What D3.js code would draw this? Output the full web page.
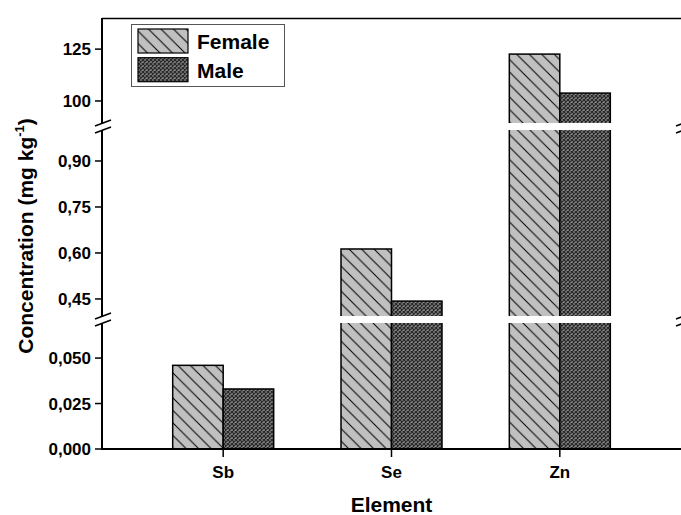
<!DOCTYPE html>
<html>
<head>
<meta charset="utf-8">
<script src="https://cdn.jsdelivr.net/npm/d3@7"></script>
<style>
  body { margin: 0; background: #fff; }
  svg { font-family: "Liberation Sans", Arial, sans-serif; font-weight: bold; }
</style>
</head>
<body>
<svg id="chart" width="681" height="515"></svg>
<script>
// Data
const categories = ["Sb", "Se", "Zn"];
const seriesNames = ["Female", "Male"];
const femaleValues = [0.046, 0.613, 122.6];
const maleValues = [0.033, 0.443, 103.8];

// Broken y axis: three segments, bottom to top
const segDomains = [[0, 0.0712], [0.383, 1.0125], [87.7, 140]];
const segTicks = [[0, 0.025, 0.05], [0.45, 0.6, 0.75, 0.9], [100, 125]];
const segFormats = [".3f", ".2f", "d"];

const plotLeft = 102, plotRight = 681, plotTop = 18, plotBottom = 449;
const breakY = [319.5, 126.5];   // pixel centres of the two breaks
const gap = 7;

const svg = d3.select("#chart");
const locale = d3.formatLocale({ decimal: ",", thousands: ".", grouping: [3], currency: ["", ""] });

// one linear scale per segment
const segRanges = [[plotBottom, breakY[0]], [breakY[0], breakY[1]], [breakY[1], plotTop]];
const yScales = segDomains.map((d, i) => d3.scaleLinear().domain(d).range(segRanges[i]));

function yOf(v) {
    const i = segDomains.findIndex(d => v >= d[0] && v <= d[1]);
    return yScales[i](v);
}

const x = d3.scaleBand().domain(categories).range([plotLeft, plotRight]).paddingInner(0.4).paddingOuter(0.42);
const xs = d3.scaleBand().domain(seriesNames).range([0, x.bandwidth()]);

// patterns
const defs = svg.append("defs");
const pf = defs.append("pattern").attr("id", "femalePat")
    .attr("patternUnits", "userSpaceOnUse").attr("width", 12.5).attr("height", 12.5);
pf.append("rect").attr("width", 12.5).attr("height", 12.5).attr("fill", "#c0c0c0");
pf.append("path").attr("d", "M0,0L12.5,12.5M-3,9.5L3,15.5M9.5,-3L15.5,3")
    .attr("stroke", "#000").attr("stroke-width", 1);

const pm = defs.append("pattern").attr("id", "malePat")
    .attr("patternUnits", "userSpaceOnUse").attr("width", 4).attr("height", 4);
pm.append("rect").attr("width", 4).attr("height", 4).attr("fill", "#858585");
pm.append("path").attr("d", "M0,0L4,4M4,0L0,4")
    .attr("stroke", "#262626").attr("stroke-width", 1.2);

const fills = { Female: "url(#femalePat)", Male: "url(#malePat)" };

// bars
const barData = [];
categories.forEach((c, i) => {
    barData.push({ cat: c, s: "Female", v: femaleValues[i] });
    barData.push({ cat: c, s: "Male", v: maleValues[i] });
});

svg.append("g").selectAll("rect")
    .data(barData)
    .join("rect")
    .attr("x", d => x(d.cat) + xs(d.s))
    .attr("width", xs.bandwidth())
    .attr("y", d => yOf(d.v))
    .attr("height", d => plotBottom - yOf(d.v))
    .attr("fill", d => fills[d.s])
    .attr("stroke", "#000")
    .attr("stroke-width", 1.5);

// white gaps at the breaks
svg.append("g").selectAll("rect")
    .data(breakY)
    .join("rect")
    .attr("x", plotLeft - 1).attr("width", 700)
    .attr("y", d => d - gap / 2).attr("height", gap)
    .attr("fill", "#fff");

// y axis pieces
yScales.forEach((s, i) => {
    const g = svg.append("g").attr("transform", `translate(${plotLeft},0)`);
    const r = s.range();
    const y0 = i === 0 ? r[0] : r[0] - gap / 2;
    const y1 = i === 2 ? r[1] : r[1] + gap / 2;
    g.append("line").attr("x1", 0).attr("x2", 0).attr("y1", y0).attr("y2", y1)
        .attr("stroke", "#000").attr("stroke-width", 2);
    const fmt = locale.format(segFormats[i]);
    const t = g.selectAll(".tick").data(segTicks[i]).join("g")
        .attr("transform", d => `translate(0,${s(d)})`);
    t.append("line").attr("x1", -7).attr("x2", 0).attr("stroke", "#000").attr("stroke-width", 1.5);
    t.append("text").attr("x", -11).attr("dy", "0.36em").attr("text-anchor", "end")
        .attr("font-size", 17).text(d => fmt(d));
});

// top frame line
svg.append("line").attr("x1", plotLeft).attr("x2", 700).attr("y1", plotTop + 0.5).attr("y2", plotTop + 0.5)
    .attr("stroke", "#000").attr("stroke-width", 1.5);

// x axis
const xAxis = svg.append("g").attr("transform", `translate(0,${plotBottom})`);
xAxis.append("line").attr("x1", plotLeft - 1).attr("x2", 700).attr("stroke", "#000").attr("stroke-width", 2);
const xt = xAxis.selectAll(".tick").data(categories).join("g")
    .attr("transform", d => `translate(${x(d) + x.bandwidth() / 2},0)`);
xt.append("line").attr("y1", 0).attr("y2", 8).attr("stroke", "#000").attr("stroke-width", 1.5);
xt.append("text").attr("y", 29).attr("text-anchor", "middle").attr("font-size", 17).text(d => d);

// break marks on both sides
[plotLeft + 1, 684].forEach(cx => {
    breakY.forEach(cy => {
        [-gap / 2, gap / 2].forEach(off => {
            svg.append("line")
                .attr("x1", cx - 8).attr("y1", cy + off + 3)
                .attr("x2", cx + 8).attr("y2", cy + off - 3)
                .attr("stroke", "#000").attr("stroke-width", 1.5);
        });
    });
});

// axis titles
svg.append("text")
    .attr("transform", "translate(33,236) rotate(-90)")
    .attr("text-anchor", "middle").attr("font-size", 21)
    .call(t => {
        t.append("tspan").text("Concentration (mg kg");
        t.append("tspan").attr("font-size", 13).attr("dy", -9).text("-1");
        t.append("tspan").attr("dy", 9).text(")");
    });

svg.append("text")
    .attr("x", (plotLeft + plotRight) / 2).attr("y", 512)
    .attr("text-anchor", "middle").attr("font-size", 21)
    .text("Element");

// legend
const lg = svg.append("g").attr("transform", "translate(131,24)");
lg.append("rect").attr("x", 0.5).attr("y", 0.5).attr("width", 153).attr("height", 62)
    .attr("fill", "#fff").attr("stroke", "#555").attr("stroke-width", 1);
seriesNames.forEach((s, i) => {
    lg.append("rect").attr("x", 7).attr("y", 5 + i * 28.7).attr("width", 50).attr("height", 24)
        .attr("fill", fills[s]).attr("stroke", "#000").attr("stroke-width", 1.2);
    lg.append("text").attr("x", 66).attr("y", 25 + i * 28.7).attr("font-size", 21).text(s);
});
</script>
</body>
</html>
